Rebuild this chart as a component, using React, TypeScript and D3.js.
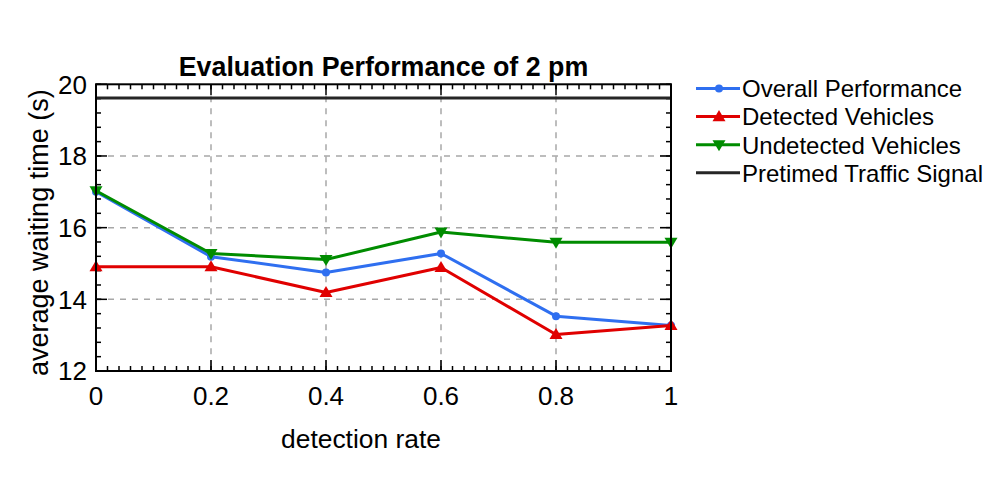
import React from "react";
import * as d3 from "d3";

const detectionRates = [0, 0.2, 0.4, 0.6, 0.8, 1];
const overall = [17.0, 15.19, 14.75, 15.28, 13.53, 13.27];
const detected = [14.91, 14.91, 14.19, 14.89, 13.02, 13.27];
const undetected = [17.03, 15.28, 15.11, 15.88, 15.59, 15.59];
const pretimed = 19.62;
const xTicks = [0, 0.2, 0.4, 0.6, 0.8, 1];
const yTicks = [12, 14, 16, 18, 20];
const seriesNames = ["Overall Performance", "Detected Vehicles", "Undetected Vehicles", "Pretimed Traffic Signal"];

const W = 1008, H = 486;
const L = 96, R = 671, T = 84.3, B = 371;
const FONT = "Liberation Sans, Arial, sans-serif";

export default function App() {
  const x = d3.scaleLinear().domain([0, 1]).range([L, R]);
  const y = d3.scaleLinear().domain([12, 20]).range([B, T]);
  const line = d3.line<number>().x((_, i) => x(detectionRates[i])).y((d) => y(d));

  const minorX = d3.range(0, 1.0001, 0.02);
  const minorY = d3.range(12, 20.0001, 0.4);

  const series = [
    { name: seriesNames[0], data: overall, color: "#2f6ff0", marker: "dot" },
    { name: seriesNames[1], data: detected, color: "#e00000", marker: "up" },
    { name: seriesNames[2], data: undetected, color: "#008c00", marker: "down" },
  ];

  const marker = (type: string, cx: number, cy: number, color: string, key: any) => {
    if (type === "dot") return <circle key={key} cx={cx} cy={cy} r={4} fill={color} />;
    const s = 6.5;
    if (type === "up")
      return <path key={key} d={`M${cx},${cy - s} L${cx + s},${cy + s * 0.7} L${cx - s},${cy + s * 0.7} Z`} fill={color} />;
    return <path key={key} d={`M${cx},${cy + s} L${cx + s},${cy - s * 0.7} L${cx - s},${cy - s * 0.7} Z`} fill={color} />;
  };

  const legendY = [88.5, 116.6, 144.7, 172.8];

  return (
    <svg width={W} height={H} style={{ display: "block", position: "absolute", left: 0, top: 0 }} fontFamily={FONT}>
      <rect width={W} height={H} fill="#fff" />
      {/* grid */}
      {xTicks.slice(1, -1).map((t) => (
        <line key={"gx" + t} x1={x(t)} x2={x(t)} y1={T} y2={B} stroke="#a8a8a8" strokeWidth={1.5} strokeDasharray="6,6" />
      ))}
      {yTicks.slice(1, -1).map((t) => (
        <line key={"gy" + t} x1={L} x2={R} y1={y(t)} y2={y(t)} stroke="#a8a8a8" strokeWidth={1.5} strokeDasharray="6,6" />
      ))}
      {/* minor ticks */}
      {minorX.map((t, i) => (
        <g key={"mx" + i}>
          <line x1={x(t)} x2={x(t)} y1={B} y2={B - 5} stroke="#000" strokeWidth={1.5} />
          <line x1={x(t)} x2={x(t)} y1={T} y2={T + 5} stroke="#000" strokeWidth={1.5} />
        </g>
      ))}
      {minorY.map((t, i) => (
        <g key={"my" + i}>
          <line x1={L} x2={L + 5} y1={y(t)} y2={y(t)} stroke="#000" strokeWidth={1.5} />
          <line x1={R} x2={R - 5} y1={y(t)} y2={y(t)} stroke="#000" strokeWidth={1.5} />
        </g>
      ))}
      {/* major ticks */}
      {xTicks.map((t) => (
        <g key={"Mx" + t}>
          <line x1={x(t)} x2={x(t)} y1={B} y2={B - 11} stroke="#000" strokeWidth={1.5} />
          <line x1={x(t)} x2={x(t)} y1={T} y2={T + 11} stroke="#000" strokeWidth={1.5} />
          <text x={x(t)} y={B + 34} fontSize={26} textAnchor="middle">{String(t)}</text>
        </g>
      ))}
      {yTicks.map((t) => (
        <g key={"My" + t}>
          <line x1={L} x2={L + 11} y1={y(t)} y2={y(t)} stroke="#000" strokeWidth={1.5} />
          <line x1={R} x2={R - 11} y1={y(t)} y2={y(t)} stroke="#000" strokeWidth={1.5} />
          <text x={L - 9} y={y(t) + 9.3} fontSize={26} textAnchor="end">{String(t)}</text>
        </g>
      ))}
      {/* pretimed */}
      <line x1={L} x2={R} y1={y(pretimed)} y2={y(pretimed)} stroke="#262626" strokeWidth={3} />
      {/* series */}
      {series.map((s) => (
        <g key={s.name}>
          <path d={line(s.data) || ""} fill="none" stroke={s.color} strokeWidth={3} strokeLinejoin="round" />
          {s.data.map((v, i) => marker(s.marker, x(detectionRates[i]), y(v), s.color, i))}
        </g>
      ))}
      {/* frame */}
      <rect x={L} y={T} width={R - L} height={B - T} fill="none" stroke="#000" strokeWidth={2} />
      {/* title */}
      <text x={(L + R) / 2} y={76} fontSize={26.8} fontWeight="bold" textAnchor="middle">Evaluation Performance of 2 pm</text>
      {/* axis labels */}
      <text x={361} y={448} fontSize={26.4} textAnchor="middle">detection rate</text>
      <text transform={`translate(48,${(T + B) / 2 + 5}) rotate(-90)`} fontSize={27} textAnchor="middle">average waiting time (s)</text>
      {/* legend */}
      {seriesNames.map((n, i) => {
        const ly = legendY[i];
        const s = series[i];
        const color = s ? s.color : "#262626";
        return (
          <g key={"lg" + n}>
            <line x1={696} x2={740} y1={ly} y2={ly} stroke={color} strokeWidth={3} />
            {s && marker(s.marker, 719, ly, color, "m")}
            <text x={742} y={ly + 8.8} fontSize={24}>{n}</text>
          </g>
        );
      })}
    </svg>
  );
}
